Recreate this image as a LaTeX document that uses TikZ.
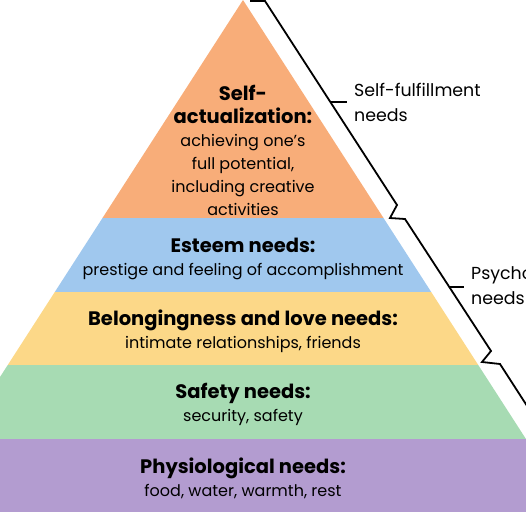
\documentclass[tikz,border=0pt]{standalone}
\usepackage{fontspec}
\setmainfont{Poppins}
\usetikzlibrary{positioning}
\definecolor{selfcol}{HTML}{F8AD79}
\definecolor{esteemcol}{HTML}{A0C8EE}
\definecolor{lovecol}{HTML}{FCD888}
\definecolor{safecol}{HTML}{A7DBB3}
\definecolor{physcol}{HTML}{B39CD0}
\newcommand{\needhead}[1]{{\fontsize{19.5}{23}\selectfont\bfseries #1}}
\tikzset{
  needtext/.style={align=center, inner sep=0pt, font=\fontsize{16}{23}\selectfont},
  bracketline/.style={draw=black, line width=1.8pt, line join=miter},
  bracketlabel/.style={anchor=west, align=left, inner sep=0pt, font=\fontsize{17.4}{25}\selectfont},
}

\begin{document}
\begin{tikzpicture}[x=1pt, y=-1pt]
  \useasboundingbox (0,0) rectangle (526,516);
  \clip (0,0) rectangle (526,516);

  % pyramid bands
  \begin{scope}
    \clip (243,0) -- (573,512) -- (-87,512) -- cycle;
    \fill[selfcol]   (-100,0)     rectangle (600,218);
    \fill[esteemcol] (-100,218)   rectangle (600,291.5);
    \fill[lovecol]   (-100,291.5) rectangle (600,365);
    \fill[safecol]   (-100,365)   rectangle (600,438.5);
    \fill[physcol]   (-100,438.5) rectangle (600,512);
  \end{scope}

  \node[needtext] (self) at (243,150) {\needhead{Self-}\\\needhead{actualization:}\\achieving one’s\\full potential,\\including creative\\activities};
  \node[needtext] (esteem) at (243,259) {\needhead{Esteem needs:}\\prestige and feeling of accomplishment};
  \node[needtext] (love) at (243,331) {\needhead{Belongingness and love needs:}\\intimate relationships, friends};
  \node[needtext] (safety) at (243,404) {\needhead{Safety needs:}\\security, safety};
  \node[needtext] (phys) at (243,478) {\needhead{Physiological needs:}\\food, water, warmth, rest};

  % brackets at the right side
  \draw[bracketline] (250,1) -- (265,1) -- (397,205) -- (390,218) -- (405,219)
    -- (491,351) -- (482,362) -- (500,364) -- (560,457);
  \draw[bracketline] (331,102) -- (347,102);
  \draw[bracketline] (449,287) -- (464,287);

  \node[bracketlabel] (fulfil) at (354,102) {Self-fulfillment\\needs};
  \node[bracketlabel] (psych) at (471,285) {Psychological\\needs};
\end{tikzpicture}
\end{document}
